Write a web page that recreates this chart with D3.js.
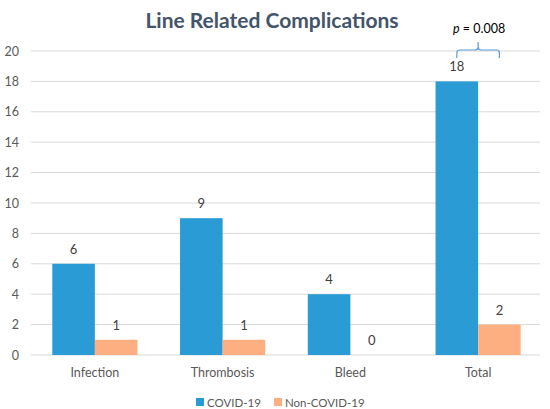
<!DOCTYPE html>
<html>
<head>
<meta charset="utf-8">
<script src="https://cdn.jsdelivr.net/npm/d3@7"></script>
<style>
  html, body { margin: 0; padding: 0; background: #fff; }
  svg { display: block; font-family: Lato, "Open Sans", sans-serif; }
</style>
</head>
<body>
<svg id="chart" width="550" height="409"></svg>
<script>
const categories = ["Infection", "Thrombosis", "Bleed", "Total"];
const seriesNames = ["COVID-19", "Non-COVID-19"];
const covidValues = [6, 9, 4, 18];
const nonCovidValues = [1, 1, 0, 2];
const yTicks = [0, 2, 4, 6, 8, 10, 12, 14, 16, 18, 20];
const titleText = "Line Related Complications";
const pValueText = "0.008";
const colors = ["#2A9BD5", "#FDAF82"];

const svg = d3.select("#chart");
const x0 = d3.scaleBand().domain(categories).range([31, 542]).padding(0);
const x1 = d3.scaleBand().domain(seriesNames).range([0, x0.bandwidth()]).paddingInner(0).paddingOuter(0.5);
const y = d3.scaleLinear().domain([0, 20]).range([355, 51]);

// gridlines
svg.append("g").selectAll("line").data(yTicks).join("line")
  .attr("x1", 31).attr("x2", 540)
  .attr("y1", d => y(d)).attr("y2", d => y(d))
  .attr("stroke", "#D9D9D9").attr("stroke-width", 1);

// y tick labels
svg.append("g").selectAll("text").data(yTicks).join("text")
  .attr("x", 19).attr("y", d => y(d) + 4.5)
  .attr("text-anchor", "end")
  .attr("font-size", 12.5).attr("fill", "#595959")
  .text(d => d);

const data = categories.map((c, i) => ({cat: c, vals: [covidValues[i], nonCovidValues[i]]}));

const groups = svg.append("g").selectAll("g").data(data).join("g")
  .attr("transform", d => `translate(${x0(d.cat)},0)`);

groups.selectAll("rect").data(d => d.vals.map((v, j) => ({s: seriesNames[j], v, j}))).join("rect")
  .attr("x", d => x1(d.s)).attr("width", x1.bandwidth())
  .attr("y", d => y(d.v)).attr("height", d => y(0) - y(d.v))
  .attr("fill", d => colors[d.j]);

groups.selectAll("text.val").data(d => d.vals.map((v, j) => ({s: seriesNames[j], v, j}))).join("text")
  .attr("class", "val")
  .attr("x", d => x1(d.s) + x1.bandwidth() / 2)
  .attr("y", d => y(d.v) - 10)
  .attr("text-anchor", "middle")
  .attr("font-size", 13).attr("fill", "#404040")
  .text(d => d.v);

// category labels
svg.append("g").selectAll("text").data(categories).join("text")
  .attr("x", d => x0(d) + x0.bandwidth() / 2)
  .attr("y", 377)
  .attr("text-anchor", "middle")
  .attr("font-size", 12.5).attr("fill", "#595959")
  .text(d => d);

// title
svg.append("text").attr("x", 272).attr("y", 28)
  .attr("text-anchor", "middle")
  .attr("font-size", 21).attr("font-weight", "bold").attr("fill", "#44546A")
  .text(titleText);

// bracket over Total
const tot = categories[3];
const bx1 = x0(tot) + x1(seriesNames[0]) + x1.bandwidth() / 2;
const bx2 = x0(tot) + x1(seriesNames[1]) + x1.bandwidth() / 2;
const bm = (bx1 + bx2) / 2;
const by = y(20) - 1;
const p = d3.path();
p.moveTo(bx1, by + 8);
p.lineTo(bx1, by + 3);
p.quadraticCurveTo(bx1, by, bx1 + 3, by);
p.lineTo(bm - 3, by);
p.quadraticCurveTo(bm, by, bm, by - 3);
p.lineTo(bm, by - 8);
p.moveTo(bm, by - 3);
p.quadraticCurveTo(bm, by, bm + 3, by);
p.lineTo(bx2 - 3, by);
p.quadraticCurveTo(bx2, by, bx2, by + 3);
p.lineTo(bx2, by + 8);
svg.append("path").attr("d", p.toString())
  .attr("fill", "none").attr("stroke", "#5B9BD5").attr("stroke-width", 1.2);

const pt = svg.append("text").attr("x", bm + 1).attr("y", 33)
  .attr("text-anchor", "middle").attr("font-size", 12.5).attr("fill", "#000");
pt.append("tspan").attr("font-style", "italic").text("p");
pt.append("tspan").text(" = " + pValueText);

// legend
const legendX = [196, 274];
const lg = svg.append("g").selectAll("g").data(seriesNames).join("g")
  .attr("transform", (d, i) => `translate(${legendX[i]},398)`);
lg.append("rect").attr("width", 8).attr("height", 8).attr("fill", (d, i) => colors[i]);
lg.append("text").attr("x", 11).attr("y", 8.5)
  .attr("font-size", 11.5).attr("fill", "#595959").text(d => d);
</script>
</body>
</html>
